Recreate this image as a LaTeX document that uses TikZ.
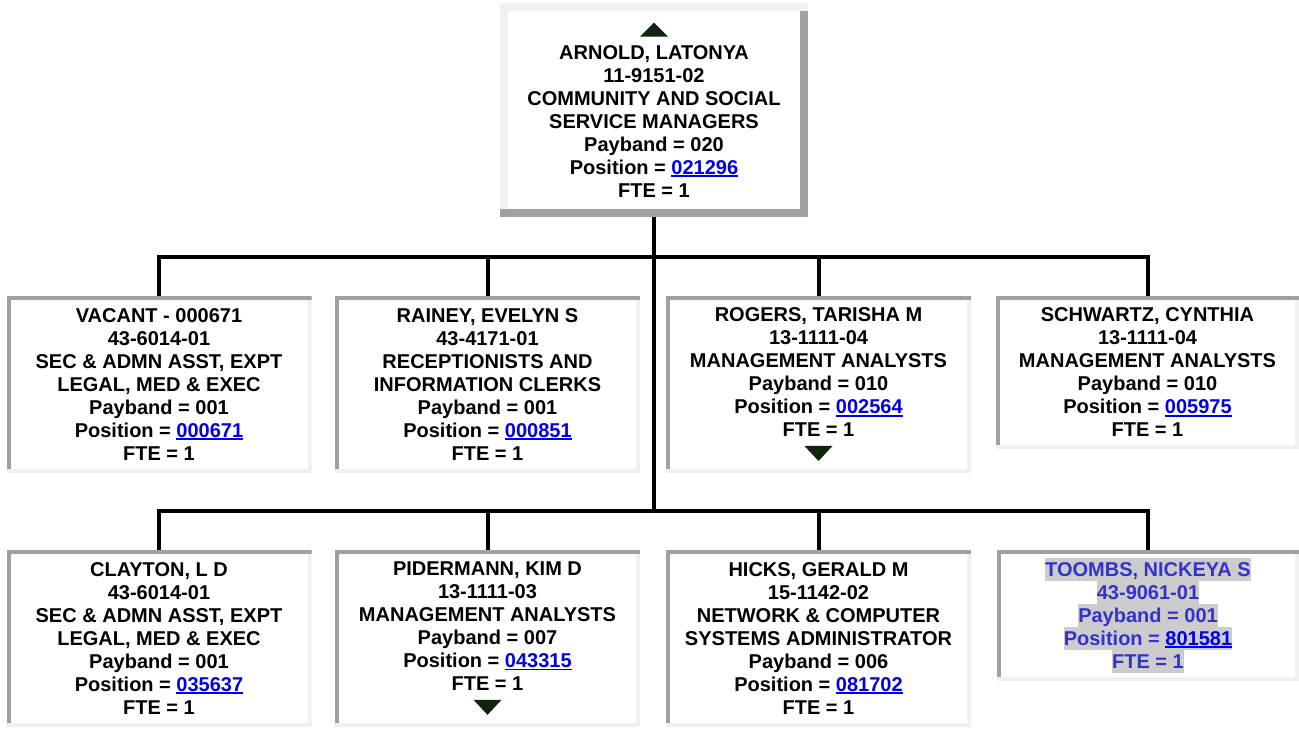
\documentclass[tikz,border=0pt]{standalone}
\usepackage{fontspec}
\setmainfont{Liberation Sans}
\usetikzlibrary{calc}
\definecolor{bdark}{HTML}{A0A0A0}
\definecolor{blight}{HTML}{F0F0F0}
\definecolor{lnkc}{HTML}{0000E6}
\definecolor{arrc}{HTML}{0D260D}
\definecolor{selc}{HTML}{3333CC}
\definecolor{hlc}{HTML}{CCCCCC}
\newcommand\lnk[1]{\textcolor{lnkc}{\setbox0\hbox{#1}\rlap{\rule[-2.6pt]{\wd0}{1.8pt}}\box0}}
\newcommand\uparr{\tikz[baseline=0pt]\fill[arrc] (0pt,0pt) -- (28pt,0pt) -- (14pt,14pt) -- cycle;}
\newcommand\dnarr{\tikz[baseline=0pt]\fill[arrc] (0pt,14pt) -- (28pt,14pt) -- (14pt,-1pt) -- cycle;}
\newcommand\hl[1]{{\fboxsep=0pt\colorbox{hlc}{\rule[-4.5pt]{0pt}{23pt}#1}}}
\tikzset{
  boxtext/.style={align=center, inner sep=0pt, font=\bfseries\fontsize{20}{23}\selectfont, minimum width=305pt},
  inset/.style={boxtext, fill=white, path picture={
      \path (path picture bounding box.north west) coordinate (pnw)
            (path picture bounding box.north east) coordinate (pne)
            (path picture bounding box.south west) coordinate (psw)
            (path picture bounding box.south east) coordinate (pse);
      \fill[blight] (pne) rectangle ($(pse)+(-4pt,0pt)$);
      \fill[blight] (psw) rectangle ($(pse)+(0pt,4pt)$);
      \fill[bdark] (pnw) rectangle ($(pne)+(0pt,-4pt)$);
      \fill[bdark] (pnw) rectangle ($(psw)+(4pt,4pt)$);
  }},
  outset/.style={boxtext, fill=white, path picture={
      \path (path picture bounding box.north west) coordinate (pnw)
            (path picture bounding box.north east) coordinate (pne)
            (path picture bounding box.south west) coordinate (psw)
            (path picture bounding box.south east) coordinate (pse);
      \fill[blight] (pnw) rectangle ($(pne)+(0pt,-8pt)$);
      \fill[blight] (pnw) rectangle ($(psw)+(8pt,8pt)$);
      \fill[bdark] ($(pne)+(0pt,-8pt)$) rectangle ($(pse)+(-8pt,0pt)$);
      \fill[bdark] (psw) rectangle ($(pse)+(0pt,8pt)$);
  }},
  conn/.style={line width=4pt, line join=miter},
}
\begin{document}
\begin{tikzpicture}[x=1pt, y=-1pt]
\fill[white] (0,0) rectangle (1299,729);
\useasboundingbox (0,0) rectangle (1299,729);

\node[outset, minimum width=308pt, minimum height=214pt] (top) at (654,110)
  {\uparr\\ ARNOLD, LATONYA\\ 11-9151-02\\ COMMUNITY AND SOCIAL\\ SERVICE MANAGERS\\ Payband = 020\\ Position = \lnk{021296}\\ FTE = 1};

\node[inset, minimum height=177pt] (b1) at (159,384.5)
  {VACANT - 000671\\ 43-6014-01\\ SEC \& ADMN ASST, EXPT\\ LEGAL, MED \& EXEC\\ Payband = 001\\ Position = \lnk{000671}\\ FTE = 1};
\node[inset, minimum height=177pt] (b2) at (487.5,384.5)
  {RAINEY, EVELYN S\\ 43-4171-01\\ RECEPTIONISTS AND\\ INFORMATION CLERKS\\ Payband = 001\\ Position = \lnk{000851}\\ FTE = 1};
\node[inset, minimum height=177pt] (b3) at (818.5,384.5)
  {ROGERS, TARISHA M\\ 13-1111-04\\ MANAGEMENT ANALYSTS\\ Payband = 010\\ Position = \lnk{002564}\\ FTE = 1\\ \dnarr};
\node[inset, minimum width=303pt, minimum height=153pt] (b4) at (1147.5,372.5)
  {SCHWARTZ, CYNTHIA\\ 13-1111-04\\ MANAGEMENT ANALYSTS\\ Payband = 010\\ Position = \lnk{005975}\\ FTE = 1};

\node[inset, minimum height=177pt] (c1) at (159,638.5)
  {CLAYTON, L D\\ 43-6014-01\\ SEC \& ADMN ASST, EXPT\\ LEGAL, MED \& EXEC\\ Payband = 001\\ Position = \lnk{035637}\\ FTE = 1};
\node[inset, minimum height=177pt] (c2) at (487.5,638.5)
  {PIDERMANN, KIM D\\ 13-1111-03\\ MANAGEMENT ANALYSTS\\ Payband = 007\\ Position = \lnk{043315}\\ FTE = 1\\ \dnarr};
\node[inset, minimum height=177pt] (c3) at (818.5,638.5)
  {HICKS, GERALD M\\ 15-1142-02\\ NETWORK \& COMPUTER\\ SYSTEMS ADMINISTRATOR\\ Payband = 006\\ Position = \lnk{081702}\\ FTE = 1};
\node[inset, text=selc, minimum width=302pt, minimum height=131pt] (c4) at (1148,615.5)
  {\hl{TOOMBS, NICKEYA S}\\ \hl{43-9061-01}\\ \hl{Payband = 001}\\ \hl{Position = \lnk{801581}}\\ \hl{FTE = 1}};

\coordinate (j1) at (654,257);
\coordinate (j2) at (654,511);

\draw[conn] (top.south) -- (j2);
\draw[conn] (b1.north) |- (j1) -| (b4.north);
\draw[conn] (b2.north) -- (b2.north |- j1);
\draw[conn] (b3.north) -- (b3.north |- j1);
\draw[conn] (c1.north) |- (j2) -| (c4.north);
\draw[conn] (c2.north) -- (c2.north |- j2);
\draw[conn] (c3.north) -- (c3.north |- j2);
\end{tikzpicture}
\end{document}
